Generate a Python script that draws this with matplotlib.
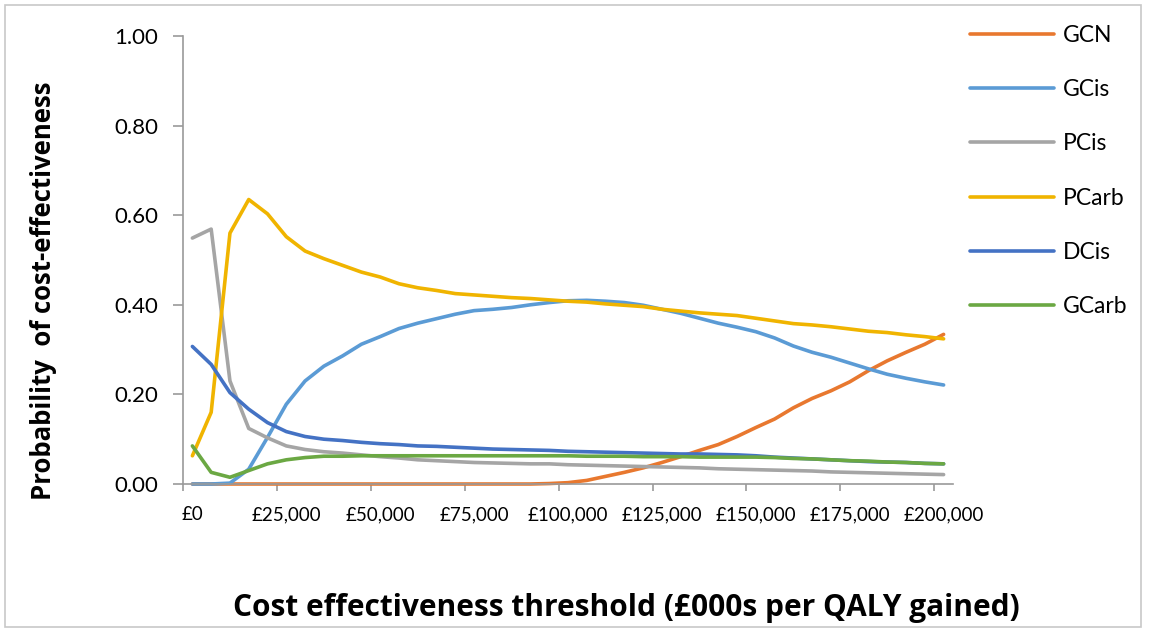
# Curvas de aceptabilidad de coste-efectividad (estilo Excel)
import matplotlib
matplotlib.use('Agg')
import matplotlib.pyplot as plt
from matplotlib.patches import Rectangle

plt.rcParams['font.family'] = ['Lato', 'DejaVu Sans']

# Umbral de coste-efectividad (categorías del eje x)
umbral = list(range(0, 200001, 5000))

# Probabilidad de coste-efectividad de cada estrategia
gcn = [0.000, 0.000, 0.000, 0.000, 0.000, 0.000, 0.000, 0.000, 0.000, 0.000,
       0.000, 0.000, 0.000, 0.000, 0.000, 0.000, 0.000, 0.000, 0.000, 0.001,
       0.003, 0.008, 0.017, 0.026, 0.036, 0.048, 0.061, 0.075, 0.088, 0.106,
       0.126, 0.145, 0.170, 0.191, 0.208, 0.228, 0.253, 0.275, 0.294, 0.312, 0.334]
gcis = [0.000, 0.000, 0.002, 0.033, 0.104, 0.178, 0.230, 0.263, 0.286, 0.312,
        0.329, 0.347, 0.359, 0.369, 0.379, 0.387, 0.390, 0.394, 0.400, 0.405,
        0.409, 0.410, 0.408, 0.405, 0.399, 0.390, 0.381, 0.370, 0.359, 0.350,
        0.340, 0.326, 0.308, 0.294, 0.283, 0.270, 0.257, 0.245, 0.236, 0.228, 0.221]
pcis = [0.549, 0.569, 0.230, 0.124, 0.103, 0.085, 0.077, 0.072, 0.069, 0.065,
        0.061, 0.058, 0.054, 0.052, 0.050, 0.048, 0.047, 0.046, 0.045, 0.045,
        0.043, 0.042, 0.041, 0.040, 0.039, 0.038, 0.037, 0.036, 0.034, 0.033,
        0.032, 0.031, 0.030, 0.029, 0.027, 0.026, 0.025, 0.024, 0.023, 0.022, 0.021]
pcarb = [0.063, 0.160, 0.560, 0.635, 0.603, 0.552, 0.520, 0.503, 0.488, 0.473,
         0.462, 0.447, 0.438, 0.432, 0.425, 0.422, 0.419, 0.416, 0.414, 0.411,
         0.408, 0.406, 0.402, 0.399, 0.396, 0.390, 0.386, 0.382, 0.379, 0.376,
         0.370, 0.364, 0.358, 0.355, 0.351, 0.346, 0.341, 0.338, 0.333, 0.329, 0.324]
dcis = [0.307, 0.267, 0.204, 0.167, 0.137, 0.117, 0.106, 0.100, 0.097, 0.093,
        0.090, 0.088, 0.085, 0.084, 0.082, 0.080, 0.078, 0.077, 0.076, 0.075,
        0.073, 0.072, 0.071, 0.070, 0.069, 0.068, 0.067, 0.067, 0.066, 0.065,
        0.063, 0.060, 0.058, 0.056, 0.054, 0.052, 0.050, 0.049, 0.048, 0.046, 0.045]
gcarb = [0.085, 0.026, 0.015, 0.030, 0.045, 0.054, 0.059, 0.062, 0.062, 0.063,
         0.063, 0.063, 0.063, 0.063, 0.063, 0.063, 0.063, 0.063, 0.063, 0.063,
         0.063, 0.062, 0.062, 0.062, 0.061, 0.061, 0.061, 0.060, 0.060, 0.060,
         0.060, 0.059, 0.057, 0.056, 0.054, 0.052, 0.051, 0.049, 0.048, 0.046, 0.045]

series = [('GCN', gcn), ('GCis', gcis), ('PCis', pcis),
          ('PCarb', pcarb), ('DCis', dcis), ('GCarb', gcarb)]
colores = ['#E8782F', '#5B9BD5', '#A5A5A5', '#F0B400', '#4472C4', '#6BA843']

y_ticks = [0.0, 0.2, 0.4, 0.6, 0.8, 1.0]
x_ticks = list(range(0, 200001, 25000))
x_labels = ['£{:,}'.format(v) for v in x_ticks]

gris = '#9a9a9a'
titulo_fuente = ['Open Sans', 'DejaVu Sans']

fig = plt.figure(figsize=(11.49, 6.30), dpi=100)
ax = fig.add_axes([183 / 1149, 1 - 484 / 630, 770 / 1149, 448 / 630])

# Dibujamos las curvas
for (nombre, valores), color in zip(series, colores):
    ax.plot(umbral, valores, color=color, lw=2.6, label=nombre,
            solid_joinstyle='round', solid_capstyle='round', clip_on=False)

ax.set_xlim(-2500, 202500)
ax.set_ylim(0, 1)

# Ejes y marcas
ax.set_yticks(y_ticks)
ax.set_yticklabels(['{:.2f}'.format(v) for v in y_ticks], fontsize=16)
ax.set_xticks(x_ticks)
ax.set_xticklabels(x_labels, fontsize=13.5)
ax.set_xticks(list(range(-2500, 200000, 25000)), minor=True)
ax.tick_params(axis='x', which='major', length=0, pad=16)
ax.tick_params(axis='x', which='minor', length=5, width=1.2, color=gris)
ax.tick_params(axis='y', length=7, width=1.2, color=gris, pad=11)

for lado in ['top', 'right']:
    ax.spines[lado].set_visible(False)
for lado in ['left', 'bottom']:
    ax.spines[lado].set_color(gris)
    ax.spines[lado].set_linewidth(1.2)

# Títulos de los ejes
fig.text(44 / 1149, 1 - 291 / 630, 'Probability  of cost-effectiveness',
         rotation=90, ha='center', va='center', fontsize=18.5,
         fontweight='bold', family=titulo_fuente)
fig.text(626 / 1149, 1 - 608 / 630,
         'Cost effectiveness threshold (£000s per QALY gained)',
         ha='center', va='center', fontsize=21.5, fontweight='bold',
         family=titulo_fuente)

# Leyenda a la derecha
fig.legend(loc='upper left', bbox_to_anchor=(970 / 1149, 1 - 25 / 630),
           frameon=False, fontsize=16.5, handlelength=3.65, handletextpad=0.4,
           labelspacing=1.45, borderpad=0, borderaxespad=0)

# Marco gris alrededor del gráfico
fig.add_artist(Rectangle((5 / 1149, 3 / 630), 1136 / 1149, 622 / 630,
                         transform=fig.transFigure, fill=False,
                         edgecolor='#c8c8c8', lw=1.2))

fig.savefig('out.png', dpi=100)
